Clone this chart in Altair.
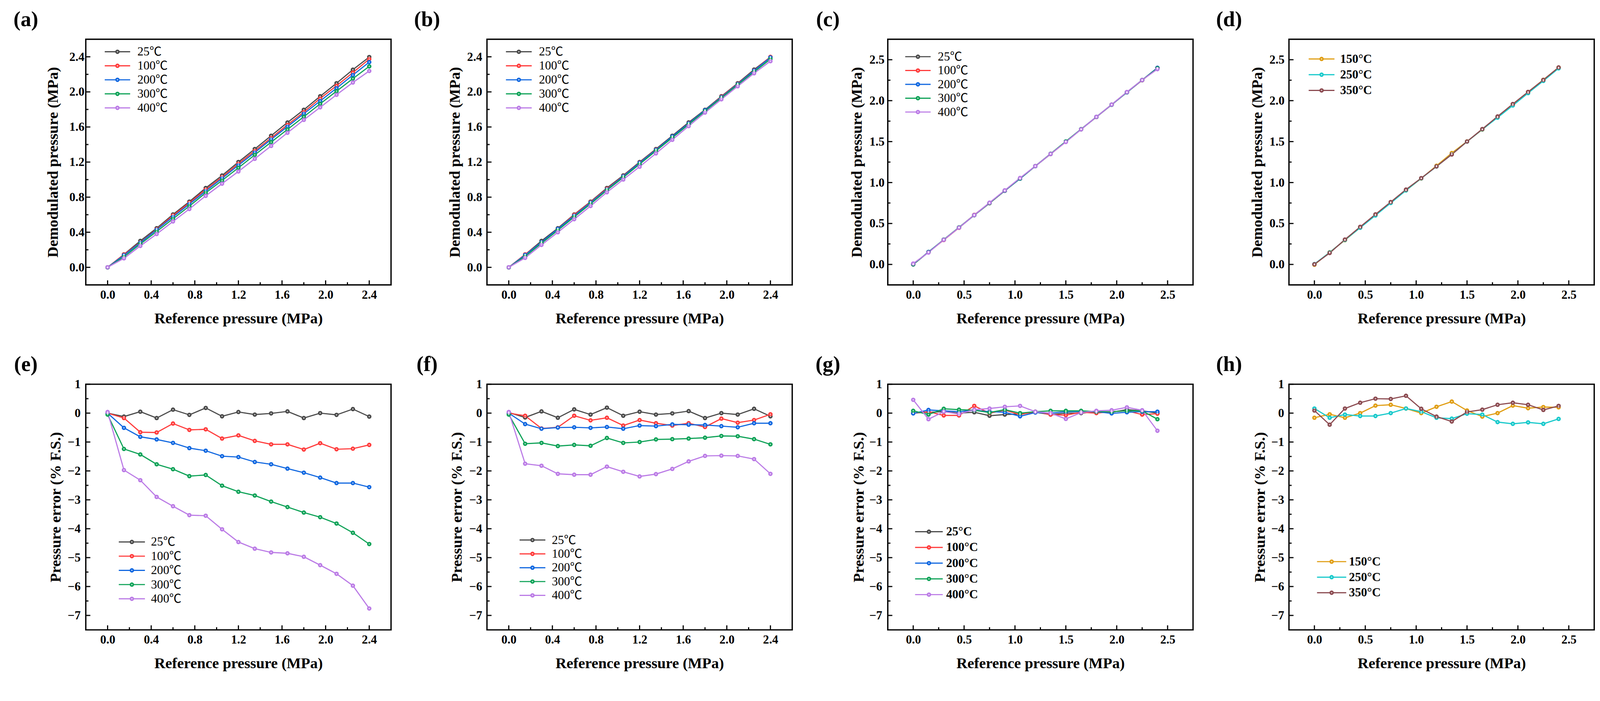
import altair as alt
import pandas as pd

FONT = "Liberation Serif"
LEG_FONT = "Liberation Serif, Noto Sans CJK SC, DejaVu Sans"

# ---------------- data ----------------
ref_pressure = [0.0, 0.15, 0.3, 0.45, 0.6, 0.75, 0.9, 1.05, 1.2, 1.35, 1.5, 1.65, 1.8, 1.95, 2.1, 2.25, 2.4]

labels_c5 = ["25℃", "100℃", "200℃", "300℃", "400℃"]
labels_deg5 = ["25°C", "100°C", "200°C", "300°C", "400°C"]
labels_deg3 = ["150°C", "250°C", "350°C"]

colors5 = ["#4a4a4a", "#ff3b3b", "#1067e0", "#0ea257", "#bb7be6"]
colors3 = ["#e09d12", "#17c9cb", "#8b4a50"]

# (a) demodulated pressure, MPa
a_25 = [0.0, 0.148, 0.301, 0.446, 0.603, 0.749, 0.904, 1.047, 1.201, 1.349, 1.500, 1.651, 1.796, 1.950, 2.099, 2.253, 2.397]
a_100 = [0.0, 0.146, 0.284, 0.434, 0.591, 0.736, 0.887, 1.029, 1.182, 1.327, 1.474, 1.624, 1.770, 1.925, 2.070, 2.220, 2.374]
a_200 = [0.0, 0.138, 0.280, 0.428, 0.575, 0.721, 0.869, 1.014, 1.164, 1.309, 1.458, 1.604, 1.751, 1.896, 2.042, 2.192, 2.339]
a_300 = [-0.001, 0.120, 0.266, 0.408, 0.553, 0.698, 0.849, 0.990, 1.135, 1.282, 1.427, 1.572, 1.717, 1.864, 2.008, 2.151, 2.291]
a_400 = [0.001, 0.103, 0.244, 0.380, 0.523, 0.665, 0.815, 0.954, 1.093, 1.237, 1.384, 1.534, 1.681, 1.824, 1.967, 2.107, 2.238]

# (b) demodulated pressure, MPa
b_25 = [0.0, 0.146, 0.301, 0.446, 0.603, 0.749, 0.905, 1.048, 1.201, 1.349, 1.500, 1.652, 1.796, 1.950, 2.099, 2.254, 2.397]
b_100 = [0.0, 0.148, 0.287, 0.438, 0.598, 0.744, 0.896, 1.040, 1.194, 1.342, 1.490, 1.642, 1.788, 1.945, 2.092, 2.244, 2.399]
b_200 = [0.0, 0.141, 0.287, 0.438, 0.588, 0.738, 0.888, 1.037, 1.190, 1.339, 1.491, 1.640, 1.790, 1.939, 2.088, 2.242, 2.392]
b_300 = [-0.001, 0.125, 0.275, 0.423, 0.574, 0.723, 0.879, 1.025, 1.176, 1.328, 1.478, 1.629, 1.780, 1.931, 2.081, 2.228, 2.374]
b_400 = [0.001, 0.108, 0.256, 0.400, 0.549, 0.699, 0.856, 1.001, 1.147, 1.299, 1.454, 1.610, 1.764, 1.915, 2.064, 2.212, 2.350]

# (c) demodulated pressure, MPa
c_25 = [0.0, 0.151, 0.301, 0.450, 0.601, 0.748, 0.899, 1.049, 1.201, 1.349, 1.500, 1.650, 1.801, 1.951, 2.103, 2.252, 2.400]
c_100 = [0.0, 0.151, 0.298, 0.448, 0.606, 0.750, 0.902, 1.049, 1.201, 1.349, 1.498, 1.651, 1.800, 1.951, 2.102, 2.249, 2.400]
c_200 = [0.0, 0.153, 0.302, 0.451, 0.602, 0.751, 0.901, 1.047, 1.200, 1.350, 1.501, 1.651, 1.801, 1.950, 2.101, 2.251, 2.401]
c_300 = [0.002, 0.149, 0.304, 0.453, 0.602, 0.750, 0.903, 1.050, 1.201, 1.352, 1.502, 1.652, 1.801, 1.951, 2.102, 2.252, 2.395]
c_400 = [0.011, 0.145, 0.301, 0.449, 0.603, 0.754, 0.905, 1.056, 1.201, 1.350, 1.495, 1.650, 1.802, 1.952, 2.105, 2.252, 2.385]

# (d) demodulated pressure, MPa
d_150 = [-0.004, 0.149, 0.296, 0.450, 0.606, 0.757, 0.904, 1.050, 1.205, 1.360, 1.502, 1.647, 1.800, 1.956, 2.104, 2.255, 2.405]
d_250 = [0.004, 0.146, 0.299, 0.448, 0.598, 0.750, 0.904, 1.051, 1.196, 1.345, 1.500, 1.649, 1.793, 1.941, 2.092, 2.241, 2.395]
d_350 = [0.002, 0.140, 0.304, 0.459, 0.612, 0.762, 0.914, 1.054, 1.197, 1.343, 1.501, 1.653, 1.807, 1.959, 2.107, 2.253, 2.406]

# (e) pressure error, % F.S.
e_25 = [0.0, -0.12, 0.05, -0.17, 0.12, -0.06, 0.18, -0.11, 0.04, -0.05, -0.01, 0.06, -0.17, 0.0, -0.06, 0.14, -0.12]
e_100 = [0.0, -0.17, -0.66, -0.67, -0.36, -0.58, -0.56, -0.88, -0.77, -0.96, -1.08, -1.08, -1.26, -1.04, -1.25, -1.23, -1.10]
e_200 = [0.0, -0.51, -0.82, -0.91, -1.03, -1.21, -1.30, -1.49, -1.52, -1.69, -1.77, -1.92, -2.06, -2.23, -2.42, -2.42, -2.56]
e_300 = [-0.05, -1.24, -1.43, -1.77, -1.94, -2.18, -2.14, -2.51, -2.72, -2.85, -3.06, -3.25, -3.44, -3.60, -3.82, -4.14, -4.53]
e_400 = [0.04, -1.97, -2.32, -2.90, -3.22, -3.53, -3.55, -4.02, -4.46, -4.69, -4.82, -4.85, -4.97, -5.26, -5.56, -5.97, -6.76]

# (f) pressure error, % F.S.
f_25 = [0.02, -0.15, 0.06, -0.16, 0.13, -0.05, 0.19, -0.09, 0.05, -0.05, -0.01, 0.07, -0.17, 0.0, -0.05, 0.15, -0.11]
f_100 = [0.0, -0.09, -0.53, -0.49, -0.09, -0.25, -0.16, -0.43, -0.24, -0.35, -0.43, -0.35, -0.48, -0.19, -0.33, -0.24, -0.04]
f_200 = [0.0, -0.38, -0.54, -0.50, -0.49, -0.51, -0.48, -0.54, -0.43, -0.45, -0.39, -0.40, -0.41, -0.45, -0.49, -0.35, -0.35]
f_300 = [-0.05, -1.06, -1.03, -1.14, -1.10, -1.13, -0.86, -1.03, -1.00, -0.91, -0.90, -0.88, -0.85, -0.79, -0.80, -0.90, -1.08]
f_400 = [0.04, -1.75, -1.82, -2.10, -2.13, -2.13, -1.85, -2.03, -2.19, -2.11, -1.93, -1.67, -1.48, -1.47, -1.48, -1.59, -2.10]

# (g) pressure error, % F.S.
g_25 = [0.0, 0.03, 0.05, 0.0, 0.03, -0.09, -0.05, -0.03, 0.03, -0.05, 0.0, 0.0, 0.05, 0.03, 0.12, 0.08, 0.0]
g_100 = [0.0, 0.05, -0.08, -0.08, 0.25, 0.0, 0.10, -0.05, 0.05, -0.05, -0.07, 0.03, 0.0, 0.05, 0.08, -0.05, -0.02]
g_200 = [-0.01, 0.11, 0.08, 0.05, 0.10, 0.05, 0.03, -0.11, 0.02, 0.0, 0.05, 0.05, 0.05, -0.01, 0.03, 0.05, 0.05]
g_300 = [0.08, -0.05, 0.15, 0.12, 0.10, 0.02, 0.12, 0.0, 0.05, 0.08, 0.08, 0.08, 0.05, 0.05, 0.08, 0.08, -0.21]
g_400 = [0.46, -0.21, 0.05, -0.03, 0.12, 0.16, 0.22, 0.25, 0.05, 0.0, -0.20, 0.02, 0.08, 0.10, 0.20, 0.10, -0.61]

# (h) pressure error, % F.S.
h_150 = [-0.16, -0.04, -0.16, 0.0, 0.26, 0.29, 0.16, 0.0, 0.22, 0.40, 0.09, -0.12, 0.0, 0.26, 0.17, 0.21, 0.20]
h_250 = [0.16, -0.16, -0.05, -0.10, -0.10, 0.0, 0.16, 0.05, -0.16, -0.19, -0.02, -0.05, -0.31, -0.37, -0.32, -0.37, -0.20]
h_350 = [0.09, -0.40, 0.16, 0.36, 0.50, 0.49, 0.60, 0.15, -0.12, -0.29, 0.04, 0.12, 0.29, 0.36, 0.29, 0.11, 0.25]

# axis ticks
ticks_x_24 = [0.0, 0.4, 0.8, 1.2, 1.6, 2.0, 2.4]
minor_x_24 = [0.2, 0.6, 1.0, 1.4, 1.8, 2.2]
ticks_25 = [0.0, 0.5, 1.0, 1.5, 2.0, 2.5]
minor_25 = [0.25, 0.75, 1.25, 1.75, 2.25]
ticks_err = [-7, -6, -5, -4, -3, -2, -1, 0, 1]
minor_err = [-6.5, -5.5, -4.5, -3.5, -2.5, -1.5, -0.5, 0.5]

dom_24 = [-0.2, 2.6]
dom_25 = [-0.25, 2.75]
dom_err = [-7.5, 1.0]

panel_tags = ["(a)", "(b)", "(c)", "(d)", "(e)", "(f)", "(g)", "(h)"]

X_TITLE = "Reference pressure (MPa)"
Y_TITLE_DEMOD = "Demodulated pressure (MPa)"
Y_TITLE_ERR = "Pressure error (% F.S.)"

W, H = 805, 648
MAJ, MIN = 12, 7
MARKER = 135


def panel(tag, series, labels, colors, xdom, xmaj, xmin, ydom, ymaj, ymin, yfmt,
          ytitle, ylabpad, ytitlepad, leg, leg_bold):
    rows = []
    for lab, vals in zip(labels, series):
        for xv, yv in zip(ref_pressure, vals):
            rows.append({"x": xv, "y": yv, "s": lab})
    df = pd.DataFrame(rows)

    xs = alt.Scale(domain=xdom, zero=False, nice=False)
    ys = alt.Scale(domain=ydom, zero=False, nice=False)
    cs = alt.Scale(domain=labels, range=colors)

    xaxis = alt.Axis(values=xmaj, format=".1f", title=X_TITLE, labelPadding=11,
                     titlePadding=27, labelFlush=False, labelOverlap=False)
    yaxis = alt.Axis(values=ymaj, format=yfmt, title=ytitle, labelPadding=ylabpad,
                     titlePadding=ytitlepad, labelOverlap=False)

    def X(field="x"):
        return alt.X(f"{field}:Q", scale=xs, axis=xaxis, title=X_TITLE)

    def Y(field="y"):
        return alt.Y(f"{field}:Q", scale=ys, axis=yaxis, title=ytitle)

    base = alt.Chart(df)
    lines = base.mark_line(strokeWidth=3).encode(
        x=X(), y=Y(), color=alt.Color("s:N", scale=cs, legend=None))
    pts = base.mark_circle(size=MARKER, opacity=1).encode(
        x=X(), y=Y(), color=alt.Color("s:N", scale=cs, legend=None))
    hl = base.mark_circle(size=14, color="white", opacity=0.7).encode(x=X(), y=Y())

    xt_maj = alt.Chart(pd.DataFrame({"x": xmaj})).mark_rule(color="black", strokeWidth=3).encode(
        x=X(), y=alt.value(H), y2=alt.value(H - MAJ))
    xt_min = alt.Chart(pd.DataFrame({"x": xmin})).mark_rule(color="black", strokeWidth=3).encode(
        x=X(), y=alt.value(H), y2=alt.value(H - MIN))
    yt_maj = alt.Chart(pd.DataFrame({"y": ymaj})).mark_rule(color="black", strokeWidth=3).encode(
        y=Y(), x=alt.value(0), x2=alt.value(MAJ))
    yt_min = alt.Chart(pd.DataFrame({"y": ymin})).mark_rule(color="black", strokeWidth=3).encode(
        y=Y(), x=alt.value(0), x2=alt.value(MIN))

    tag_txt = alt.Chart(pd.DataFrame({"t": [tag]})).mark_text(
        align="center", baseline="middle", font=FONT, fontSize=56, fontWeight="bold", color="black"
    ).encode(x=alt.value(-158), y=alt.value(-52), text="t:N")

    layers = [lines, pts, hl, xt_maj, xt_min, yt_maj, yt_min, tag_txt]

    y0, sp, lx0, lx1, ltx = leg
    for i, (lab, col) in enumerate(zip(labels, colors)):
        ly = alt.value(y0 + sp * i)
        lb = alt.Chart(pd.DataFrame({"s": [lab]}))
        layers.append(lb.mark_rule(strokeWidth=3, color=col).encode(
            x=alt.value(lx0), x2=alt.value(lx1), y=ly))
        layers.append(lb.mark_circle(size=MARKER, opacity=1, color=col).encode(
            x=alt.value((lx0 + lx1) / 2), y=ly))
        layers.append(lb.mark_circle(size=14, color="white", opacity=0.7).encode(
            x=alt.value((lx0 + lx1) / 2), y=ly))
        layers.append(lb.mark_text(align="left", baseline="middle", font=LEG_FONT, fontSize=32,
                                   fontWeight="bold" if leg_bold else "normal", color="black").encode(
            x=alt.value(ltx), y=ly, text="s:N"))

    return alt.layer(*layers).properties(width=W, height=H)


pa = panel(panel_tags[0], [a_25, a_100, a_200, a_300, a_400], labels_c5, colors5, dom_24, ticks_x_24, minor_x_24,
           dom_24, ticks_x_24, minor_x_24, ".1f", Y_TITLE_DEMOD, 4, 22, (33, 37, 50, 117, 136), False)
pb = panel(panel_tags[1], [b_25, b_100, b_200, b_300, b_400], labels_c5, colors5, dom_24, ticks_x_24, minor_x_24,
           dom_24, ticks_x_24, minor_x_24, ".1f", Y_TITLE_DEMOD, 13, 11, (33, 37, 50, 118, 137), False)
pc = panel(panel_tags[2], [c_25, c_100, c_200, c_300, c_400], labels_c5, colors5, dom_25, ticks_25, minor_25,
           dom_25, ticks_25, minor_25, ".1f", Y_TITLE_DEMOD, 9, 12, (46, 36.5, 46, 113, 132), False)
pd_ = panel(panel_tags[3], [d_150, d_250, d_350], labels_deg3, colors3, dom_25, ticks_25, minor_25,
            dom_25, ticks_25, minor_25, ".1f", Y_TITLE_DEMOD, 12, 11, (52, 41.5, 52, 120, 135), True)
pe = panel(panel_tags[4], [e_25, e_100, e_200, e_300, e_400], labels_c5, colors5, dom_24, ticks_x_24, minor_x_24,
           dom_err, ticks_err, minor_err, "d", Y_TITLE_ERR, 14, 11, (416, 37.5, 87, 156, 172), False)
pf = panel(panel_tags[5], [f_25, f_100, f_200, f_300, f_400], labels_c5, colors5, dom_24, ticks_x_24, minor_x_24,
           dom_err, ticks_err, minor_err, "d", Y_TITLE_ERR, 13, 12, (411, 36.5, 86, 154, 171), False)
pg = panel(panel_tags[6], [g_25, g_100, g_200, g_300, g_400], labels_deg5, colors5, dom_25, ticks_25, minor_25,
           dom_err, ticks_err, minor_err, "d", Y_TITLE_ERR, 15, 7, (389, 41.5, 72, 145, 154), True)
ph = panel(panel_tags[7], [h_150, h_250, h_350], labels_deg3, colors3, dom_25, ticks_25, minor_25,
           dom_err, ticks_err, minor_err, "d", Y_TITLE_ERR, 13, 9, (468, 41, 74, 151, 158), True)

chart = alt.concat(pa, pb, pc, pd_, pe, pf, pg, ph, columns=4, spacing={"row": 69, "column": 57}).resolve_scale(
    color="independent"
).properties(
    padding={"left": 25, "top": -13, "right": 5, "bottom": 5},
    background="white",
).configure_view(
    stroke="black", strokeWidth=3.5
).configure_axis(
    labelFont=FONT, labelFontSize=32, labelFontWeight="bold", labelColor="black",
    titleFont=FONT, titleFontSize=40, titleFontWeight="bold", titleColor="black",
    domain=False, ticks=False, tickSize=0, grid=False,
)

chart.save("out.html", embed_options={"renderer": "svg", "actions": False})
